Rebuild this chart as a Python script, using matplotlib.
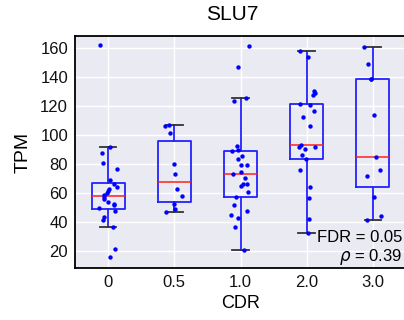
import numpy as np
import matplotlib
matplotlib.use("Agg")
import matplotlib.pyplot as plt

plt.rcParams['font.family'] = ['Liberation Sans', 'DejaVu Sans']

categories = ["0", "0.5", "1.0", "2.0", "3.0"]
cdr_0 = [15.7, 21.4, 36.2, 41.0, 43.0, 47.5, 49.5, 51.6, 52.5, 54.0, 55.5, 57.2,
         58.6, 60.0, 61.3, 62.7, 64.0, 65.8, 68.9, 76.3, 80.8, 87.5, 91.5, 162.3]
cdr_05 = [46.6, 48.9, 52.1, 57.6, 62.7, 72.9, 79.8, 101.6, 106.0, 107.0]
cdr_10 = [20.5, 36.4, 42.6, 44.9, 47.5, 51.8, 57.4, 60.8, 64.6, 66.0, 66.0, 70.1,
          72.9, 74.5, 79.1, 79.1, 83.2, 85.7, 89.0, 89.5, 92.4, 123.8, 125.6,
          147.3, 161.8]
cdr_20 = [32.1, 41.9, 56.5, 64.3, 75.8, 83.4, 86.0, 90.6, 91.7, 91.7, 92.9, 106.3,
          112.5, 116.9, 120.6, 121.7, 127.7, 128.9, 130.5, 154.2, 158.3]
cdr_30 = [41.0, 44.2, 57.2, 71.4, 75.6, 84.6, 113.9, 138.6, 138.6, 149.4, 160.7]
groups = [cdr_0, cdr_05, cdr_10, cdr_20, cdr_30]
yticks = [20, 40, 60, 80, 100, 120, 140, 160]
title = "SLU7"
fdr_text = "FDR = 0.05"
rho_text = r"$\rho$ = 0.39"

W, H = 404, 320
fig = plt.figure(figsize=(W / 100, H / 100), dpi=100)
ax = fig.add_axes([75 / W, (H - 268) / H, 331 / W, 232 / H])
ax.set_facecolor('#EAEAF2')
ax.grid(True, color='white', linewidth=1.0)
ax.set_axisbelow(True)

positions = np.arange(1, len(groups) + 1)
ax.boxplot(groups, positions=positions, widths=0.5, showfliers=False,
           boxprops=dict(color='#2222ff', linewidth=1.3),
           whiskerprops=dict(color='#2222ff', linewidth=1.3),
           capprops=dict(color='#333333', linewidth=1.3),
           medianprops=dict(color='#ff2020', linewidth=1.1),
           zorder=2)

rng = np.random.default_rng(7)
for p, g in zip(positions, groups):
    jit = rng.uniform(-0.14, 0.14, len(g))
    ax.scatter(p + jit, g, s=10, color='#0000ff', zorder=3, linewidths=0)

ax.set_xlim(0.5, 5.5)
ax.set_ylim(8, 168.5)
ax.set_xticks(positions)
ax.set_xticklabels(categories)
ax.set_yticks(yticks)
ax.tick_params(axis='both', length=0, labelsize=12, colors='#111111', pad=5)
for s in ax.spines.values():
    s.set_color('black')
    s.set_linewidth(1.3)

ax.set_xlabel("CDR", fontsize=13, labelpad=4)
ax.set_ylabel("TPM", fontsize=14, labelpad=6)
fig.text(232 / W, 1 - 15 / H, title, ha='center', va='center', fontsize=15)

fig.text(402 / W, 1 - 237 / H, fdr_text, ha='right', va='center', fontsize=12)
fig.text(402 / W, 1 - 257 / H, rho_text, ha='right', va='center', fontsize=12)

fig.savefig("out.png", dpi=100)
